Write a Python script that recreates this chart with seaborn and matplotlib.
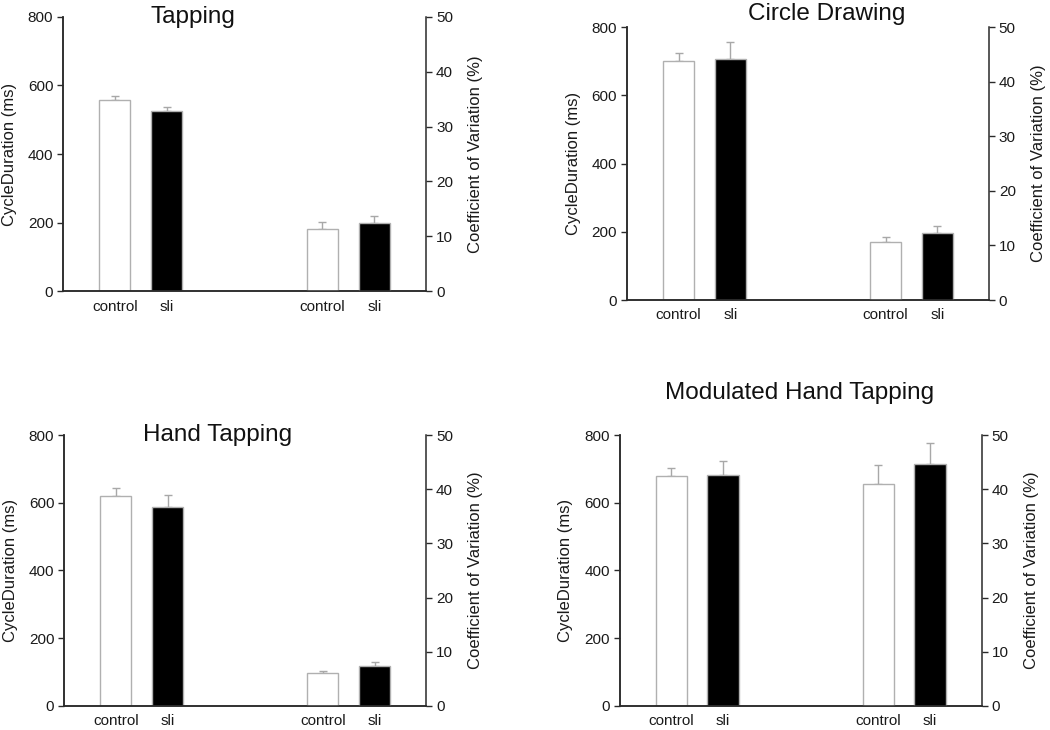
import numpy as np
import pandas as pd
import matplotlib
matplotlib.use('Agg')
import matplotlib.pyplot as plt
import seaborn as sns

sns.set_style('white')
plt.rcParams['font.family'] = ['Liberation Sans', 'DejaVu Sans']

# Data
tasks = ['Tapping', 'Circle Drawing', 'Hand Tapping', 'Modulated Hand Tapping']
groups = ['control', 'sli']

duration_mean = {
    'Tapping': [558, 524],
    'Circle Drawing': [699, 706],
    'Hand Tapping': [620, 588],
    'Modulated Hand Tapping': [678, 683],
}
duration_err = {
    'Tapping': [11, 12],
    'Circle Drawing': [26, 51],
    'Hand Tapping': [24, 35],
    'Modulated Hand Tapping': [24, 40],
}
cv_mean = {
    'Tapping': [11.4, 12.5],
    'Circle Drawing': [10.6, 12.2],
    'Hand Tapping': [6.1, 7.3],
    'Modulated Hand Tapping': [40.9, 44.7],
}
cv_err = {
    'Tapping': [1.3, 1.2],
    'Circle Drawing': [0.9, 1.3],
    'Hand Tapping': [0.4, 0.8],
    'Modulated Hand Tapping': [3.5, 3.8],
}

duration_pos = [1, 2]
cv_pos = [5, 6]

# axes rectangles (figure fractions) and title placement (axes fractions)
axes_rects = {
    'Tapping': [0.060, 0.601, 0.346, 0.376],
    'Circle Drawing': [0.597, 0.589, 0.345, 0.374],
    'Hand Tapping': [0.061, 0.033, 0.345, 0.371],
    'Modulated Hand Tapping': [0.590, 0.033, 0.345, 0.371],
}
title_xy = {
    'Tapping': (0.358, 1.0),
    'Circle Drawing': (0.552, 1.048),
    'Hand Tapping': (0.425, 1.0),
    'Modulated Hand Tapping': (0.497, 1.155),
}

palette = {'control': 'white', 'sli': 'black'}
edge = '#b0b0b0'
spine_col = '#2a2a2a'
text_col = '#1a1a1a'


def draw_bars(ax, pos, means, errs):
    df = pd.DataFrame({'pos': pos, 'value': means, 'group': groups})
    sns.barplot(data=df, x='pos', y='value', hue='group', palette=palette,
                native_scale=True, dodge=False, width=0.6, errorbar=None,
                legend=False, linewidth=1.0, edgecolor=edge, ax=ax)
    ax.errorbar(pos, means, yerr=[np.zeros(len(errs)), errs], fmt='none',
                ecolor='#a8a8a8', elinewidth=1.0, capsize=3, capthick=1.0, zorder=0)


fig = plt.figure(figsize=(10.5, 7.3), dpi=100)

for task in tasks:
    ax = fig.add_axes(axes_rects[task])
    ax2 = ax.twinx()

    draw_bars(ax, duration_pos, duration_mean[task], duration_err[task])
    draw_bars(ax2, cv_pos, cv_mean[task], cv_err[task])

    ax.set_xlim(0, 7)
    ax.set_ylim(0, 800)
    ax.set_yticks([0, 200, 400, 600, 800])
    ax2.set_ylim(0, 50)
    ax2.set_yticks([0, 10, 20, 30, 40, 50])

    ax.set_xticks(duration_pos + cv_pos)
    ax.set_xticklabels(groups + groups)
    ax2.set_xlim(0, 7)

    ax.set_xlabel('')
    ax2.set_xlabel('')
    ax.set_ylabel('CycleDuration (ms)', fontsize=12, labelpad=8, color=text_col)
    ax2.set_ylabel('Coefficient of Variation (%)', fontsize=12, labelpad=11, color=text_col)

    for a in (ax, ax2):
        for side in ('left', 'right', 'bottom'):
            a.spines[side].set_visible(True)
            a.spines[side].set_color(spine_col)
            a.spines[side].set_linewidth(1.1)
        a.spines['top'].set_visible(False)
    ax.spines['right'].set_visible(False)

    ax.tick_params(axis='y', direction='out', length=4, width=1.0, color=spine_col,
                   labelsize=11, labelcolor=text_col, pad=3, left=True)
    ax2.tick_params(axis='y', direction='out', length=4, width=1.0, color=spine_col,
                    labelsize=11, labelcolor=text_col, pad=3, right=True)
    ax.tick_params(axis='x', length=0, labelsize=11, labelcolor=text_col, pad=6)

    tx, ty = title_xy[task]
    ax.text(tx, ty, task, transform=ax.transAxes, ha='center', va='center',
            fontsize=17.5, color='#111111')

fig.savefig('out.png', dpi=100)
